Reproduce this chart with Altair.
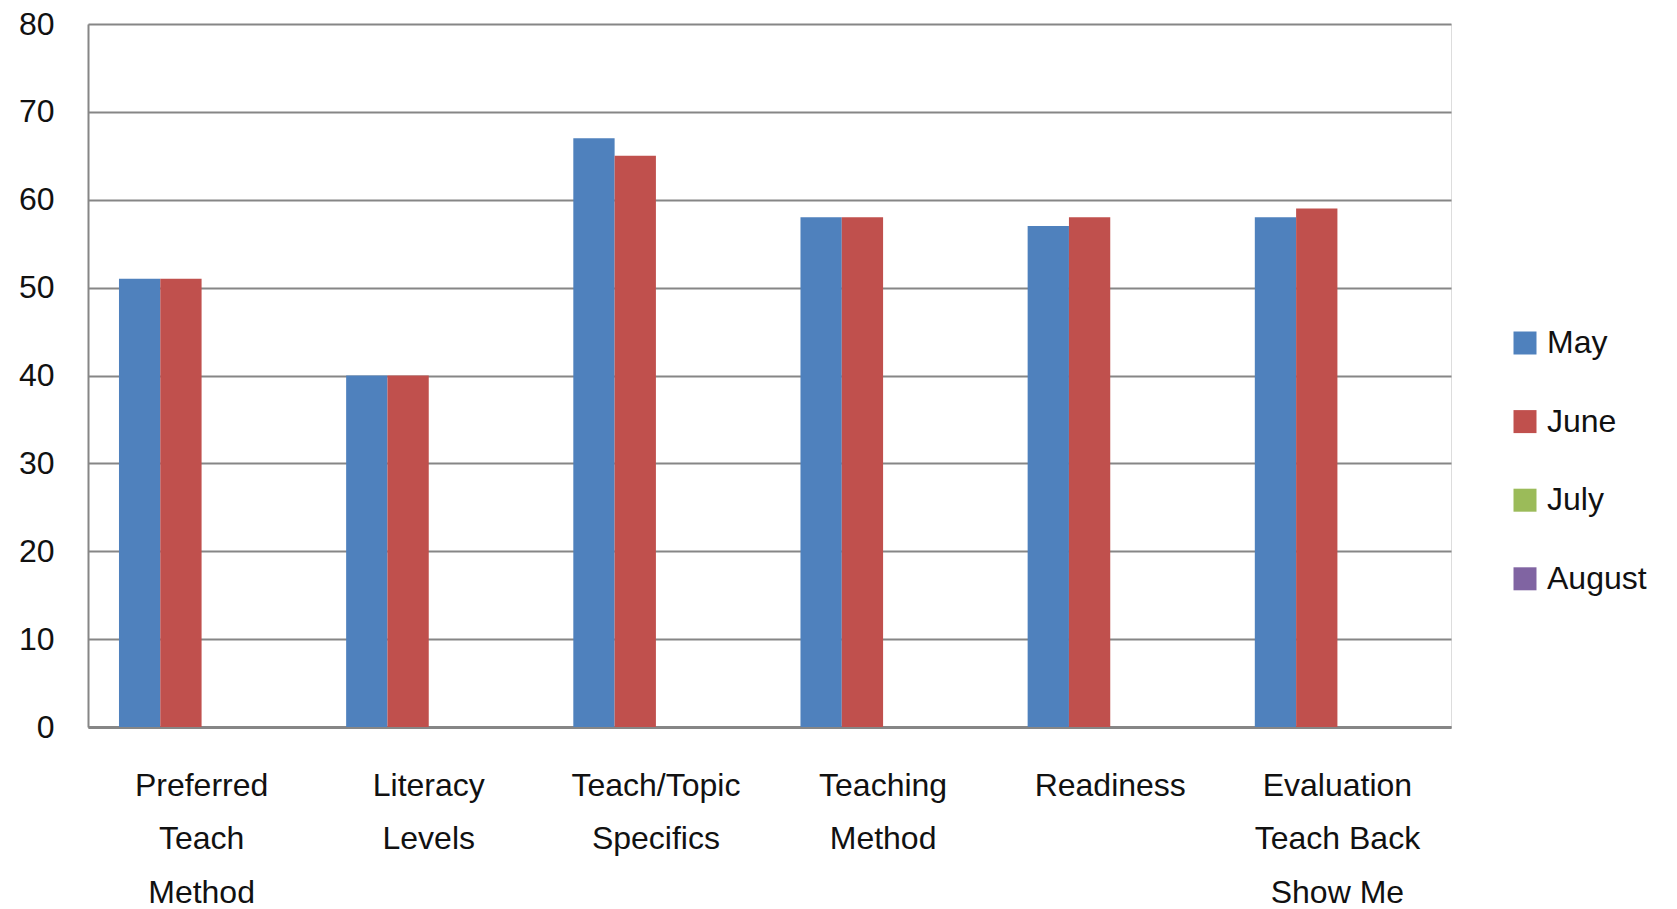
import altair as alt
import pandas as pd

categories = ["Preferred Teach Method", "Literacy Levels", "Teach/Topic Specifics",
              "Teaching Method", "Readiness", "Evaluation Teach Back Show Me"]
label_lines = [["Preferred", "Teach", "Method"], ["Literacy", "Levels"],
               ["Teach/Topic", "Specifics"], ["Teaching", "Method"], ["Readiness"],
               ["Evaluation", "Teach Back", "Show Me"]]
months = ["May", "June", "July", "August"]
month_colors = ["#4F81BD", "#C0504D", "#9BBB59", "#8064A2"]
may_values = [51, 40, 67, 58, 57, 58]
june_values = [51, 40, 65, 58, 58, 59]
y_ticks = [0, 10, 20, 30, 40, 50, 60, 70, 80]

rows = []
for c, m, j in zip(categories, may_values, june_values):
    rows.append({"category": c, "month": "May", "value": m})
    rows.append({"category": c, "month": "June", "value": j})
df = pd.DataFrame(rows)

expr = "''"
for c, lines in reversed(list(zip(categories, label_lines))):
    arr = "[" + ",".join("'" + l + "'" for l in lines) + "]"
    expr = f"datum.value == '{c}' ? {arr} : ({expr})"

FONT = "Liberation Sans"
GRID = "#868686"

chart = alt.Chart(df).mark_bar().encode(
    x=alt.X("category:N", sort=categories,
            scale=alt.Scale(domain=categories, paddingInner=0, paddingOuter=0),
            axis=alt.Axis(title=None, labelAngle=0, labelExpr=expr, ticks=False,
                          domainColor=GRID, domainWidth=3, labelPadding=43,
                          labelFontSize=32, labelLineHeight=53.5, labelFont=FONT,
                          labelColor="#111111", grid=False, labelBaseline="top")),
    xOffset=alt.XOffset("month:N", scale=alt.Scale(domain=months, paddingInner=0, paddingOuter=0.75)),
    y=alt.Y("value:Q", scale=alt.Scale(domain=[0, 80], nice=False),
            axis=alt.Axis(title=None, values=y_ticks, ticks=False, domainColor=GRID,
                          domainWidth=2, gridColor=GRID, gridWidth=2, gridOpacity=1,
                          labelPadding=34, labelFontSize=32, labelFont=FONT,
                          labelColor="#111111")),
    color=alt.Color("month:N", scale=alt.Scale(domain=months, range=month_colors),
                    legend=alt.Legend(title=None, orient="none", legendX=1421, legendY=303,
                                      symbolType="square", symbolSize=529,
                                      symbolStrokeWidth=0, labelFontSize=32,
                                      labelFont=FONT, labelColor="#111111",
                                      labelOffset=6, rowPadding=46.6)),
).properties(
    width=1363, height=703,
    autosize=alt.AutoSizeParams(type="none"),
    padding={"left": 88, "top": 24, "right": 226, "bottom": 182},
).configure_view(stroke="#B8B8B8", strokeWidth=2).configure(background="white")

chart.save("out.html", embed_options={"renderer": "svg", "actions": False})
